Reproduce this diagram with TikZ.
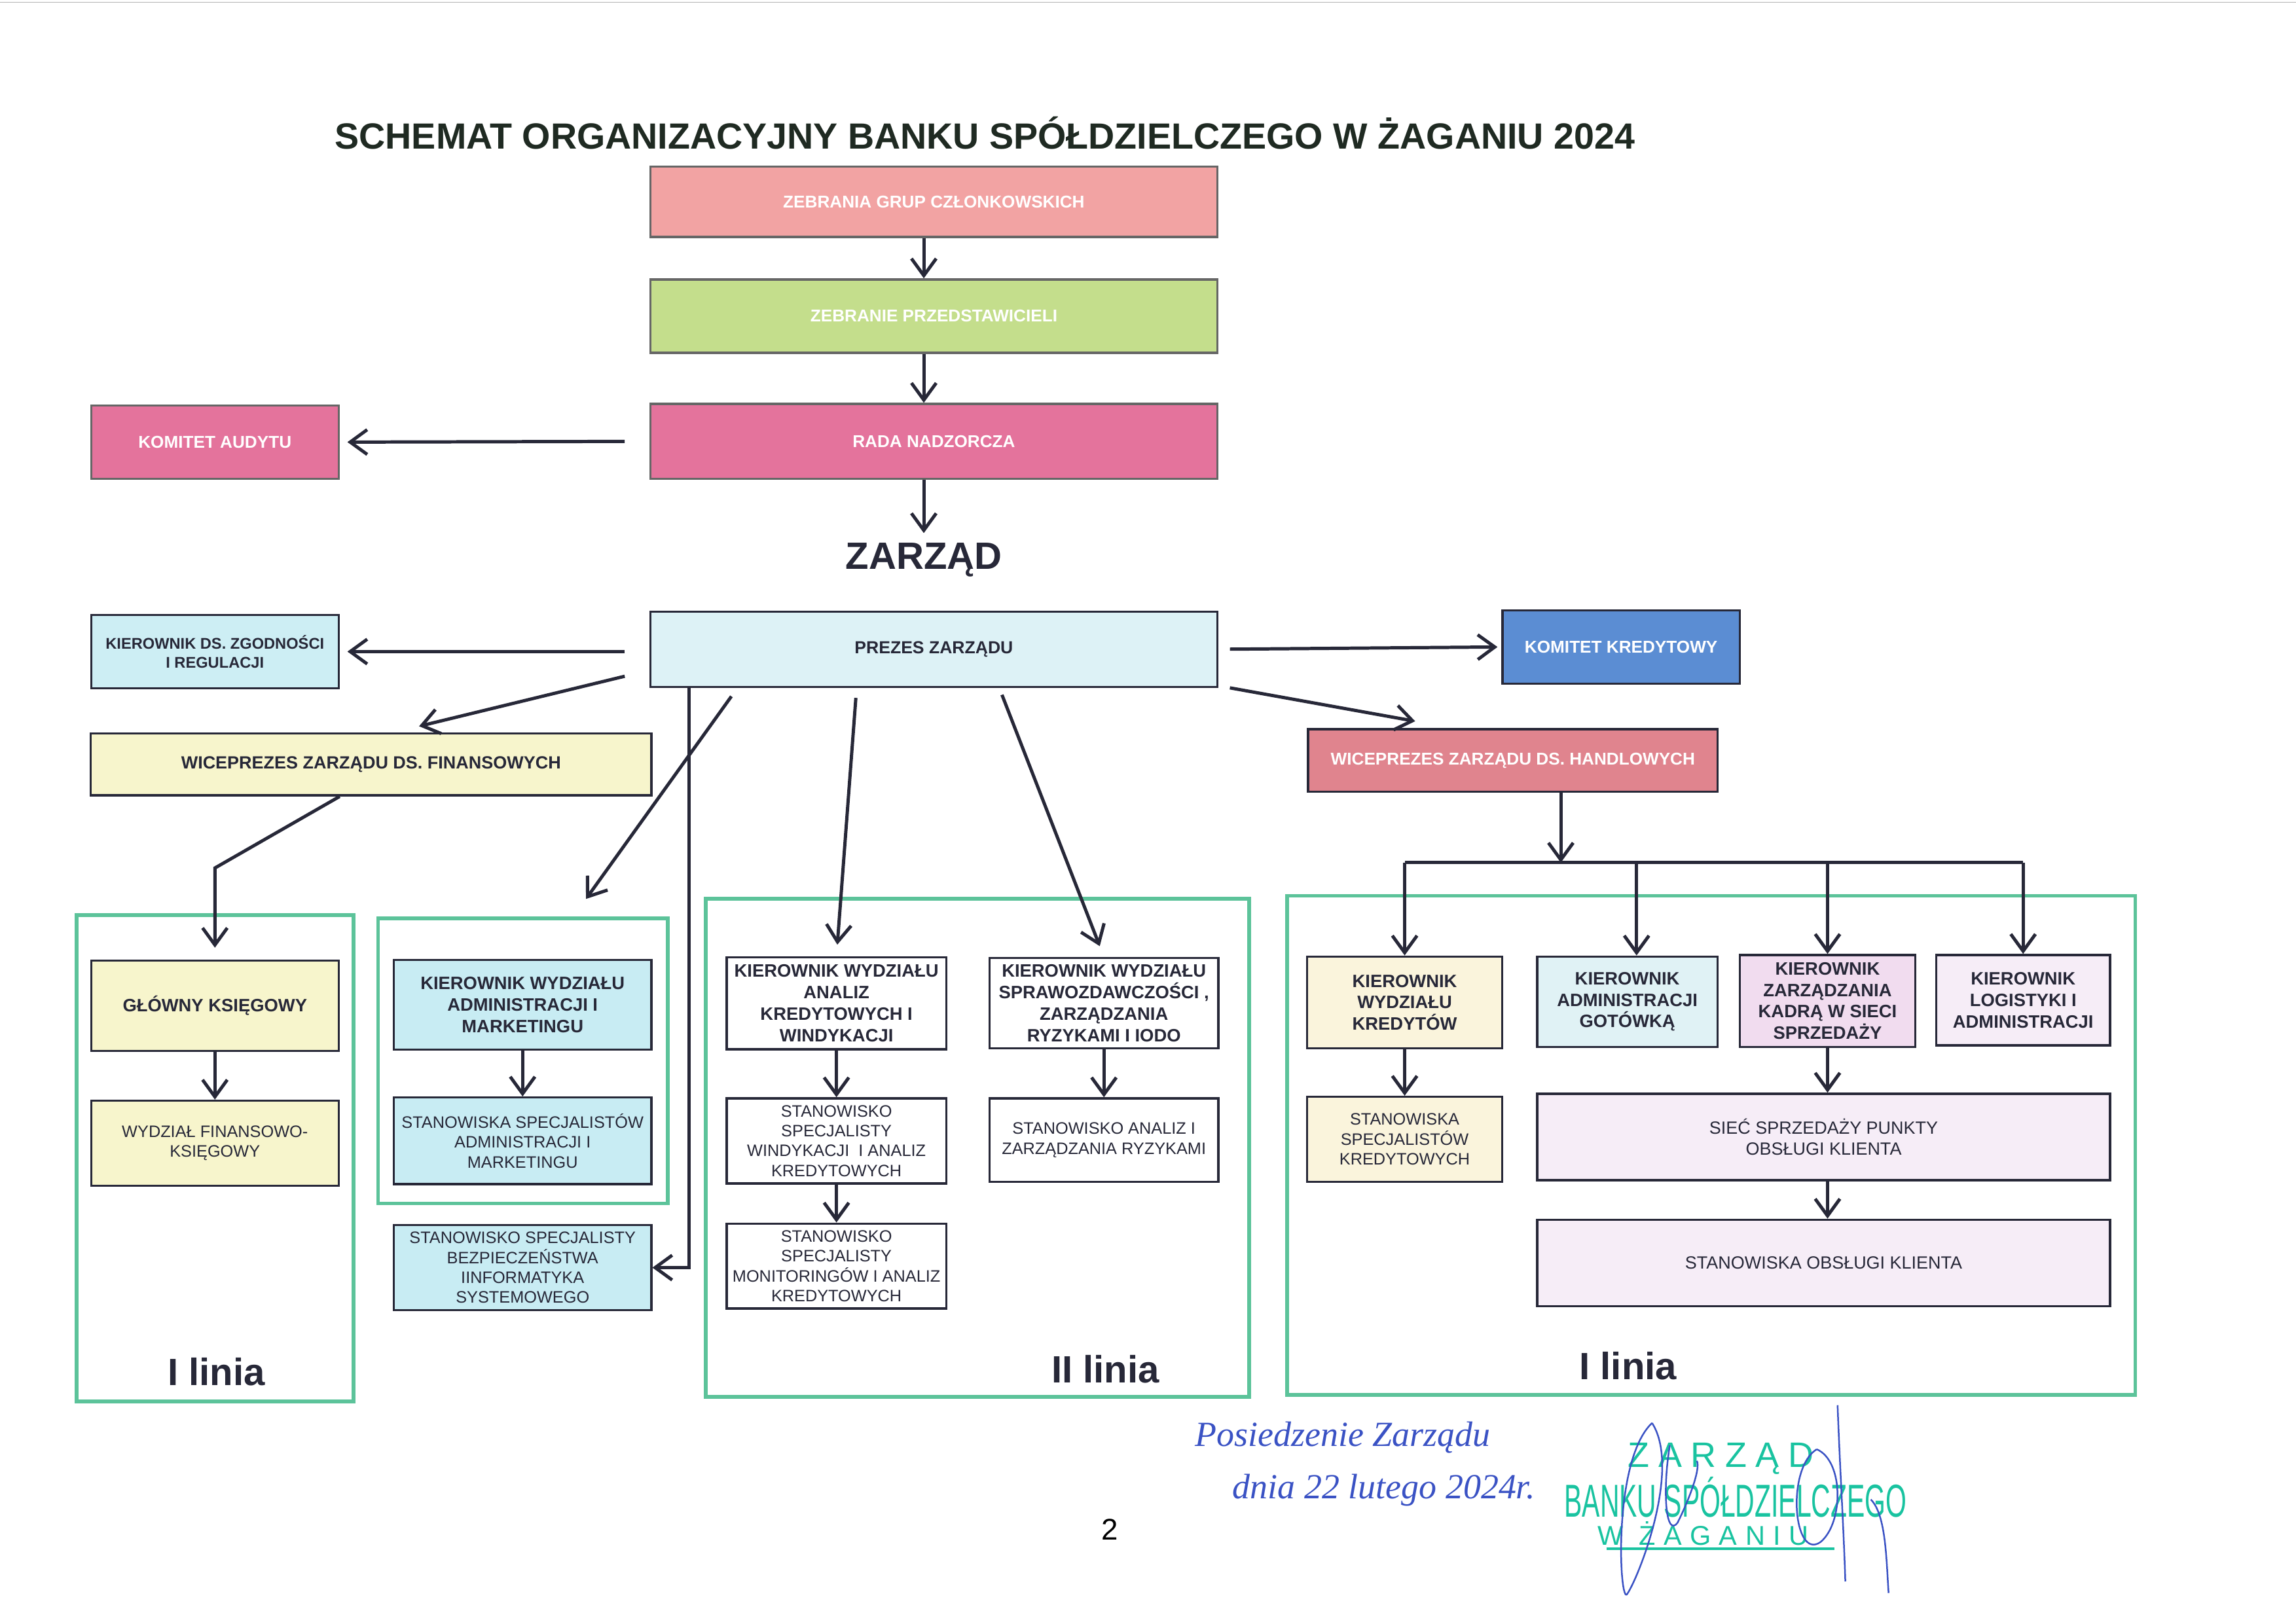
\documentclass[tikz,border=0pt]{standalone}
\usepackage{fontspec}
\setmainfont{Liberation Sans}
\newfontfamily\reka{Liberation Serif}
\usetikzlibrary{arrows.meta,calc}

\definecolor{ciemny}{HTML}{272838}
\definecolor{zielony}{HTML}{5CC39A}
\definecolor{tytul}{HTML}{1F2A22}
\definecolor{roz1}{HTML}{F2A3A3}
\definecolor{ziel1}{HTML}{C4DE8C}
\definecolor{roz2}{HTML}{E4739C}
\definecolor{roz3}{HTML}{E0848E}
\definecolor{roz4}{HTML}{F1DCEF}
\definecolor{roz5}{HTML}{F6EDF7}
\definecolor{cyj1}{HTML}{DDF2F6}
\definecolor{cyj2}{HTML}{CDEEF4}
\definecolor{cyj3}{HTML}{C8ECF3}
\definecolor{cyj4}{HTML}{E0F2F5}
\definecolor{nieb}{HTML}{5B8DD3}
\definecolor{zolty}{HTML}{F7F5CC}
\definecolor{zolty2}{HTML}{FAF4DC}
\definecolor{dlugopis}{HTML}{3A52C4}
\definecolor{piecz}{HTML}{19C3A0}

\begin{document}
\begin{tikzpicture}[
		mynode/.style={draw=ciemny, line width=0.8pt, align=center, inner sep=1pt, text=ciemny},
		bialy/.style={mynode, draw=gray!80!black, text=white, font=\fontsize{6.3}{7.5}\selectfont\bfseries},
		gruby/.style={mynode, font=\fontsize{6.6}{7.9}\selectfont\bfseries},
		cienki/.style={mynode, font=\fontsize{6.1}{7.3}\selectfont},
		ramka/.style={draw=zielony, line width=1.4pt},
		napis/.style={text=ciemny, font=\fontsize{14}{16}\selectfont\bfseries},
		strz/.style={-{Straight Barb[length=2.2mm,width=3.2mm]}, line width=1.2pt, color=ciemny},
		pismo/.style={text=dlugopis, font=\reka\itshape\fontsize{13}{15}\selectfont},
		stempel/.style={text=piecz, inner sep=0pt}
	]
	\useasboundingbox (0,0) rectangle (29.70,-21.01);
	\draw[gray!60, line width=0.4pt] (0,-0.03) -- (29.70,-0.03);

	\node[text=tytul, font=\fontsize{13.4}{15}\selectfont\bfseries] (tyt) at (12.74,-1.72) {SCHEMAT ORGANIZACYJNY BANKU SPÓŁDZIELCZEGO W ŻAGANIU 2024};

	% gora
	\node[bialy, fill=roz1, minimum width=7.33cm, minimum height=0.91cm] (zgc) at (12.08,-2.61) {ZEBRANIA GRUP CZŁONKOWSKICH};
	\node[bialy, fill=ziel1, minimum width=7.33cm, minimum height=0.95cm] (zp) at (12.08,-4.09) {ZEBRANIE PRZEDSTAWICIELI};
	\node[bialy, fill=roz2, minimum width=7.33cm, minimum height=0.97cm] (rn) at (12.08,-5.71) {RADA NADZORCZA};
	\node[bialy, fill=roz2, minimum width=3.20cm, minimum height=0.95cm] (ka) at (2.78,-5.72) {KOMITET AUDYTU};

	\node[napis] (zarz) at (11.95,-7.24) {ZARZĄD};

	\node[mynode, fill=cyj1, font=\fontsize{6.4}{7.6}\selectfont\bfseries, minimum width=7.33cm, minimum height=0.97cm] (pz) at (12.08,-8.40) {PREZES ZARZĄDU};
	\node[gruby, fill=cyj2, font=\fontsize{5.7}{7}\selectfont\bfseries, minimum width=3.20cm, minimum height=0.95cm] (kz) at (2.78,-8.43) {KIEROWNIK DS. ZGODNOŚCI\\I REGULACJI};
	\node[bialy, draw=ciemny, fill=nieb, minimum width=3.07cm, minimum height=0.95cm] (kk) at (20.97,-8.37) {KOMITET KREDYTOWY};
	\node[gruby, fill=zolty, font=\fontsize{6.5}{7.8}\selectfont\bfseries, minimum width=7.25cm, minimum height=0.80cm] (wf) at (4.80,-9.89) {WICEPREZES ZARZĄDU DS. FINANSOWYCH};
	\node[bialy, draw=ciemny, fill=roz3, minimum width=5.30cm, minimum height=0.81cm] (wh) at (19.57,-9.84) {WICEPREZES ZARZĄDU DS. HANDLOWYCH};

	% ramki
	\draw[ramka] (0.99,-11.84) rectangle (4.57,-18.13);
	\draw[ramka] (4.89,-11.88) rectangle (8.64,-15.57);
	\draw[ramka] (9.13,-11.63) rectangle (16.16,-18.07);
	\draw[ramka] (16.65,-11.59) rectangle (27.62,-18.05);

	\node[napis] (l1) at (2.80,-17.75) {I linia};
	\node[napis] (l2) at (14.30,-17.71) {II linia};
	\node[napis] (l3) at (21.06,-17.67) {I linia};

	% pion finansowy
	\node[gruby, fill=zolty, minimum width=3.20cm, minimum height=1.17cm] (gk) at (2.78,-13.01) {GŁÓWNY KSIĘGOWY};
	\node[cienki, fill=zolty, minimum width=3.20cm, minimum height=1.10cm] (wfk) at (2.78,-14.79) {WYDZIAŁ FINANSOWO-\\KSIĘGOWY};

	\node[gruby, fill=cyj3, minimum width=3.33cm, minimum height=1.16cm] (kam) at (6.76,-13.00) {KIEROWNIK WYDZIAŁU\\ADMINISTRACJI I\\MARKETINGU};
	\node[cienki, fill=cyj3, minimum width=3.33cm, minimum height=1.12cm] (sam) at (6.76,-14.76) {STANOWISKA SPECJALISTÓW\\ADMINISTRACJI I\\MARKETINGU};
	\node[cienki, fill=cyj3, minimum width=3.33cm, minimum height=1.10cm] (sbi) at (6.76,-16.40) {STANOWISKO SPECJALISTY\\BEZPIECZEŃSTWA\\IINFORMATYKA\\SYSTEMOWEGO};

	% II linia
	\node[gruby, fill=white, minimum width=2.84cm, minimum height=1.19cm] (kak) at (10.82,-12.98) {KIEROWNIK WYDZIAŁU\\ANALIZ\\KREDYTOWYCH I\\WINDYKACJI};
	\node[cienki, fill=white, minimum width=2.84cm, minimum height=1.10cm] (swa) at (10.82,-14.76) {STANOWISKO\\SPECJALISTY\\WINDYKACJI \ I ANALIZ\\KREDYTOWYCH};
	\node[cienki, fill=white, minimum width=2.84cm, minimum height=1.10cm] (smk) at (10.82,-16.38) {STANOWISKO\\SPECJALISTY\\MONITORINGÓW I ANALIZ\\KREDYTOWYCH};
	\node[gruby, fill=white, minimum width=2.96cm, minimum height=1.17cm] (ksr) at (14.28,-12.98) {KIEROWNIK WYDZIAŁU\\SPRAWOZDAWCZOŚCI ,\\ZARZĄDZANIA\\RYZYKAMI I IODO};
	\node[cienki, fill=white, minimum width=2.96cm, minimum height=1.08cm] (sar) at (14.28,-14.75) {STANOWISKO ANALIZ I\\ZARZĄDZANIA RYZYKAMI};

	% pion handlowy
	\node[gruby, fill=zolty2, minimum width=2.52cm, minimum height=1.19cm] (kwk) at (18.17,-12.97) {KIEROWNIK\\WYDZIAŁU\\KREDYTÓW};
	\node[gruby, fill=cyj4, minimum width=2.33cm, minimum height=1.17cm] (kag) at (21.05,-12.96) {KIEROWNIK\\ADMINISTRACJI\\GOTÓWKĄ};
	\node[gruby, fill=roz4, minimum width=2.27cm, minimum height=1.19cm] (kzk) at (23.64,-12.95) {KIEROWNIK\\ZARZĄDZANIA\\KADRĄ W SIECI\\SPRZEDAŻY};
	\node[gruby, fill=roz5, minimum width=2.25cm, minimum height=1.17cm] (kla) at (26.17,-12.94) {KIEROWNIK\\LOGISTYKI I\\ADMINISTRACJI};
	\node[cienki, fill=zolty2, minimum width=2.52cm, minimum height=1.10cm] (ssk) at (18.17,-14.74) {STANOWISKA\\SPECJALISTÓW\\KREDYTOWYCH};
	\node[cienki, fill=roz5, font=\fontsize{6.5}{7.6}\selectfont, minimum width=7.41cm, minimum height=1.12cm] (ssp) at (23.59,-14.71) {SIEĆ SPRZEDAŻY PUNKTY\\OBSŁUGI KLIENTA};
	\node[cienki, fill=roz5, font=\fontsize{6.5}{7.6}\selectfont, minimum width=7.41cm, minimum height=1.12cm] (sok) at (23.59,-16.34) {STANOWISKA OBSŁUGI KLIENTA};

	\coordinate (zal) at (2.78,-11.23);
	\coordinate (rB) at (7.58,-11.63);
	\coordinate (szyna) at (20.19,-11.16);

	% strzalki
	\draw[strz] (zgc.south -| zarz) -- (zp.north -| zarz);
	\draw[strz] (zp.south -| zarz) -- (rn.north -| zarz);
	\draw[strz] (rn.south -| zarz) -- (zarz.north);
	\draw[strz, shorten <=3.2mm, shorten >=1mm] (rn.west) -- (ka.east);
	\draw[strz, shorten <=3.2mm, shorten >=1mm] (pz.west |- kz) -- (kz.east);
	\draw[strz, shorten <=1.5mm, shorten >=0.5mm] (pz.east) -- (kk.west);
	\draw[strz] ($(pz.south west)+(-0.32,0.15)$) -- ($(wf.north west)+(4.26,0.08)$);
	\draw[strz] ($(pz.south east)+(0.15,0)$) -- ($(wh.north west)+(1.40,0.09)$);
	\draw[strz] ($(pz.south west)+(1.06,-0.11)$) -- (rB);
	\draw[strz] ($(pz.south west)+(0.51,0)$) |- (sbi.east);
	\draw[strz, shorten >=1.5mm] ($(pz.south west)+(2.67,-0.13)$) -- (kak.north);
	\draw[strz, shorten >=1.5mm] ($(pz.south west)+(4.56,-0.09)$) -- (ksr.north);
	\draw[strz, shorten >=1.5mm] (wf.south -| gk.east) -- (zal) -- (gk.north);

	\draw[strz] (gk) -- (wfk);
	\draw[strz] (kam) -- (sam);
	\draw[strz] (kak) -- (swa);
	\draw[strz] (swa) -- (smk);
	\draw[strz] (ksr) -- (sar);

	\draw[strz] (wh.south -| szyna) -- (szyna);
	\draw[line width=1.2pt, ciemny] (szyna -| kwk) -- (szyna -| kla);
	\foreach \k in {kwk,kzk,kla}
		\draw[strz] (szyna -| \k) -- (\k.north);
	\draw[strz] ($(szyna -| kag)+(0.12,0)$) -- ($(kag.north)+(0.12,0)$);
	\draw[strz] (kwk) -- (ssk);
	\draw[strz] (kzk.south) -- (kzk.south |- ssp.north);
	\draw[strz] (kzk.south |- ssp.south) -- (kzk.south |- sok.north);

	% dol strony
	\node[font=\fontsize{11}{13}\selectfont] (nr) at (14.36,-19.79) {2};
	\node[pismo] (pos) at (17.37,-18.60) {Posiedzenie Zarządu};
	\node[pismo] (dn) at (17.90,-19.28) {dnia 22 lutego 2024r.};

	\node[stempel, font=\fontsize{13}{15}\selectfont\addfontfeatures{LetterSpace=25}] (p1) at (22.26,-18.87) {ZARZĄD};
	\node[stempel, font=\fontsize{17}{19}\selectfont] (p2) at (22.45,-19.37) {\scalebox{0.58}[1]{BANKU SPÓŁDZIELCZEGO}};
	\node[stempel, font=\fontsize{10}{12}\selectfont\addfontfeatures{LetterSpace=30}] (p3) at (22.03,-19.84) {W ŻAGANIU};
	\draw[piecz, line width=1pt] (20.78,-20.04) -- (23.73,-20.04);

	\draw[dlugopis, line width=0.6pt] (21.37,-18.41) .. controls (20.85,-18.90) and (20.95,-20.80) .. (21.05,-20.62) .. controls (21.20,-20.40) and (21.75,-19.00) .. (21.37,-18.41);
	\draw[dlugopis, line width=0.6pt] (21.60,-18.70) .. controls (21.50,-19.30) and (21.55,-19.90) .. (21.70,-19.70) .. controls (21.85,-19.40) and (22.00,-19.00) .. (21.95,-18.90);
	\draw[dlugopis, line width=0.6pt] (23.50,-18.75) .. controls (23.10,-19.00) and (23.20,-20.20) .. (23.55,-19.95) .. controls (23.85,-19.70) and (23.85,-18.90) .. (23.50,-18.75);
	\draw[dlugopis, line width=0.6pt] (23.77,-18.18) .. controls (23.80,-19.00) and (23.85,-19.80) .. (23.87,-20.46);
	\draw[dlugopis, line width=0.6pt] (24.20,-19.40) .. controls (24.40,-19.60) and (24.40,-20.20) .. (24.43,-20.61);
\end{tikzpicture}
\end{document}
